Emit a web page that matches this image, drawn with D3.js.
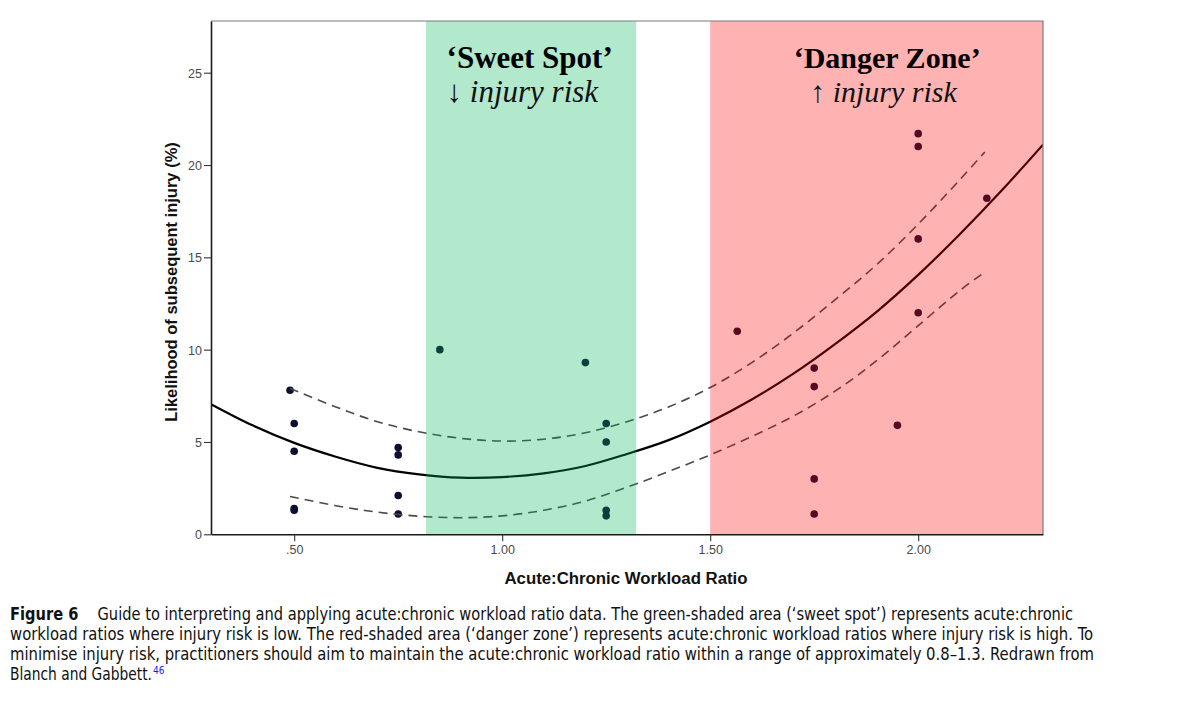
<!DOCTYPE html>
<html>
<head>
<meta charset="utf-8">
<script src="https://cdn.jsdelivr.net/npm/d3@7"></script>
<style>
  html, body { margin: 0; padding: 0; background: #fff; }
  svg { display: block; }
</style>
</head>
<body>
<svg id="chart" width="1191" height="705"></svg>
<script>
// ---- data ----
const ptsX = [0.49, 0.50, 0.50, 0.50, 0.50, 0.75, 0.75, 0.75, 0.75, 0.85, 1.20, 1.25, 1.25, 1.25, 1.25, 1.565, 1.75, 1.75, 1.75, 1.75, 1.95, 2.00, 2.00, 2.00, 2.00, 2.165];
const ptsY = [7.8, 6.0, 4.5, 1.4, 1.3, 4.7, 4.3, 2.1, 1.1, 10.0, 9.3, 6.0, 5.0, 1.3, 1.0, 11.0, 9.0, 8.0, 3.0, 1.1, 5.9, 12.0, 16.0, 21.7, 21.0, 18.2];

// quadratic fit line, read at regular x positions
const fitX = [0.3, 0.4, 0.5, 0.6, 0.7, 0.8, 0.9, 1.0, 1.1, 1.2, 1.3, 1.4, 1.5, 1.6, 1.7, 1.8, 1.9, 2.0, 2.1, 2.2, 2.3];
const fitY = [7.05, 5.9, 4.95, 4.2, 3.6, 3.25, 3.07, 3.1, 3.3, 3.7, 4.35, 5.1, 6.1, 7.3, 8.7, 10.3, 12.05, 14.05, 16.25, 18.6, 21.1];

// confidence band lines (dashed)
const ciX = [0.49, 0.6, 0.7, 0.8, 0.9, 1.0, 1.1, 1.2, 1.3, 1.4, 1.5, 1.6, 1.7, 1.8, 1.9, 2.0, 2.1, 2.16];
const ciUpper = [7.9, 6.9, 6.1, 5.55, 5.2, 5.05, 5.15, 5.5, 6.1, 6.9, 7.95, 9.3, 10.9, 12.7, 14.6, 16.8, 19.2, 20.7];
const ciLower = [2.05, 1.55, 1.2, 0.98, 0.9, 1.0, 1.3, 1.8, 2.55, 3.4, 4.3, 5.3, 6.4, 7.75, 9.4, 11.3, 13.2, 14.2];

// shaded zones [start, end] on the x axis
const sweetZone = [0.817, 1.322];
const dangerZone = [1.5, 2.3];

const xDomain = [0.3, 2.3];
const yDomain = [0, 27.8];
const xTicks = [0.5, 1.0, 1.5, 2.0];
const xTickLabels = [".50", "1.00", "1.50", "2.00"];
const yTicks = [0, 5, 10, 15, 20, 25];

const xTitle = "Acute:Chronic Workload Ratio";
const yTitle = "Likelihood of subsequent injury (%)";
const sweetTitle = "\u2018Sweet Spot\u2019";
const dangerTitle = "\u2018Danger Zone\u2019";
const sweetSub = ["\u2193 ", "injury risk"];
const dangerSub = ["\u2191 ", "injury risk"];

const captionBold = "Figure 6";
const captionLines = [
  "Guide to interpreting and applying acute:chronic workload ratio data. The green-shaded area (\u2018sweet spot\u2019) represents acute:chronic",
  "workload ratios where injury risk is low. The red-shaded area (\u2018danger zone\u2019) represents acute:chronic workload ratios where injury risk is high. To",
  "minimise injury risk, practitioners should aim to maintain the acute:chronic workload ratio within a range of approximately 0.8\u20131.3. Redrawn from",
  "Blanch and Gabbett."
];
const captionRef = "46";

// ---- layout ----
const svg = d3.select("#chart");
const L = 211, R = 1043, T = 21, B = 534.3;

const x = d3.scaleLinear().domain(xDomain).range([L, R]);
const y = d3.scaleLinear().domain(yDomain).range([B, T]);

svg.append("defs").append("clipPath").attr("id", "plotclip")
  .append("rect").attr("x", L).attr("y", T).attr("width", R - L).attr("height", B - T);

const plot = svg.append("g").attr("clip-path", "url(#plotclip)");

// points (drawn beneath the tinted zones)
plot.append("g").selectAll("circle")
  .data(ptsX.map((d, i) => [d, ptsY[i]]))
  .join("circle")
  .attr("cx", d => x(d[0]))
  .attr("cy", d => y(d[1]))
  .attr("r", 3.8)
  .attr("fill", "#0b0f31");

// dashed CI lines
const ciLine = (arr) => d3.line()
  .x((d, i) => x(ciX[i]))
  .y((d, i) => y(arr[i]))
  .curve(d3.curveCatmullRom.alpha(0.5));

plot.append("path").datum(ciUpper)
  .attr("d", ciLine(ciUpper))
  .attr("fill", "none").attr("stroke", "#4a4a4a")
  .attr("stroke-width", 1.6).attr("stroke-dasharray", "9,6");
plot.append("path").datum(ciLower)
  .attr("d", ciLine(ciLower))
  .attr("fill", "none").attr("stroke", "#4a4a4a")
  .attr("stroke-width", 1.6).attr("stroke-dasharray", "9,6");

// fit line
plot.append("path").datum(fitY)
  .attr("d", d3.line().x((d, i) => x(fitX[i])).y(d => y(d)).curve(d3.curveCatmullRom.alpha(0.5)))
  .attr("fill", "none").attr("stroke", "#000")
  .attr("stroke-width", 2.2);

// tinted zones (semi-transparent overlays)
plot.append("rect")
  .attr("x", x(sweetZone[0])).attr("y", T)
  .attr("width", x(sweetZone[1]) - x(sweetZone[0])).attr("height", B - T)
  .attr("fill", "rgb(0,178,85)").attr("fill-opacity", 0.3);
plot.append("rect")
  .attr("x", x(dangerZone[0])).attr("y", T)
  .attr("width", x(dangerZone[1]) - x(dangerZone[0])).attr("height", B - T)
  .attr("fill", "rgb(255,0,0)").attr("fill-opacity", 0.3);

// frame: top and right
svg.append("path")
  .attr("d", `M${L},${T}H${R}V${B}`)
  .attr("fill", "none").attr("stroke", "#7a7a7a").attr("stroke-width", 1.2);

// axes
const yAxis = svg.append("g").attr("transform", `translate(${L},0)`)
  .call(d3.axisLeft(y).tickValues(yTicks).tickSize(7).tickSizeOuter(0).tickFormat(d3.format("d")));
const xAxis = svg.append("g").attr("transform", `translate(0,${B})`)
  .call(d3.axisBottom(x).tickValues(xTicks).tickSize(7).tickSizeOuter(0).tickFormat((d, i) => xTickLabels[i]));

[yAxis, xAxis].forEach(g => {
  g.select(".domain").attr("stroke", "#1a1a1a").attr("stroke-width", 1.6);
  g.selectAll(".tick line").attr("stroke", "#333").attr("stroke-width", 1.1);
  g.selectAll(".tick text")
    .attr("fill", "#4a4a4a")
    .style("font-family", "'Liberation Sans', Arial, sans-serif")
    .style("font-size", "12.5px");
});
yAxis.selectAll(".tick text").attr("x", -9).attr("dy", "0.36em");
xAxis.selectAll(".tick text").attr("y", 11);

// axis titles
svg.append("text")
  .attr("x", 626).attr("y", 584)
  .attr("text-anchor", "middle")
  .style("font-family", "'Liberation Sans', Arial, sans-serif")
  .style("font-weight", "bold").style("font-size", "16.8px")
  .attr("fill", "#111")
  .text(xTitle);

svg.append("text")
  .attr("transform", `translate(177,282) rotate(-90)`)
  .attr("text-anchor", "middle")
  .style("font-family", "'Liberation Sans', Arial, sans-serif")
  .style("font-weight", "bold").style("font-size", "16.5px")
  .attr("fill", "#111")
  .text(yTitle);

// zone annotations
function zoneLabel(xTitlePos, xSubPos, title, sub, size) {
  svg.append("text")
    .attr("x", xTitlePos).attr("y", 68)
    .style("font-family", "'Liberation Serif', 'Times New Roman', serif")
    .style("font-weight", "bold").style("font-size", size + "px")
    .attr("fill", "#000")
    .text(title);
  const t = svg.append("text")
    .attr("x", xSubPos).attr("y", 102)
    .style("font-family", "'Liberation Serif', 'Times New Roman', serif")
    .style("font-size", size + "px")
    .attr("fill", "#111");
  t.append("tspan").text(sub[0]);
  t.append("tspan").style("font-style", "italic").text(sub[1]);
}
zoneLabel(x(sweetZone[0]) + 20.5, x(sweetZone[0]) + 20.5, sweetTitle, sweetSub, 31);
zoneLabel(x(dangerZone[0]) + 83.5, x(dangerZone[0]) + 100, dangerTitle, dangerSub, 30);

// caption
const capFont = "'Liberation Sans Narrow', 'DejaVu Sans Condensed', 'Liberation Sans', sans-serif";
const capTargets = [1073 - 10, 1093 - 10, 1094 - 10, 152 - 10];
const capBase = [620, 640, 660, 680];
captionLines.forEach((line, i) => {
  const t = svg.append("text")
    .attr("x", 10).attr("y", capBase[i])
    .style("font-family", capFont)
    .style("font-size", "17px")
    .attr("fill", "#111");
  if (i === 0) {
    t.append("tspan").style("font-weight", "bold").text(captionBold);
    t.append("tspan").attr("dx", 20).text(line);
    t.attr("textLength", capTargets[i]).attr("lengthAdjust", "spacingAndGlyphs");
  } else if (i === captionLines.length - 1) {
    t.append("tspan").attr("textLength", capTargets[i]).attr("lengthAdjust", "spacingAndGlyphs").text(line);
    t.append("tspan").attr("dx", 1).attr("dy", -6)
      .style("font-size", "10px").attr("fill", "#1a1aff").text(captionRef);
  } else {
    t.text(line);
    t.attr("textLength", capTargets[i]).attr("lengthAdjust", "spacingAndGlyphs");
  }
});
</script>
</body>
</html>
